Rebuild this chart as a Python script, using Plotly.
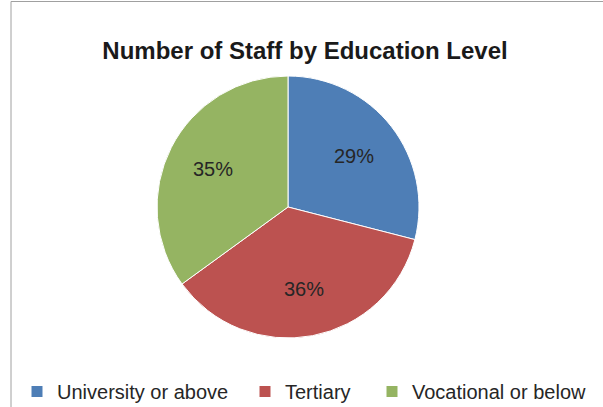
import math
import plotly.graph_objects as go

categories = ["University or above", "Tertiary", "Vocational or below"]
values = [29, 36, 35]
colors = ["#4E7EB6", "#BC5250", "#95B462"]

W, H = 603, 407
FONT = "Liberation Sans, Arial, Helvetica, sans-serif"

# pie placement (pixels)
cx, cy, R = 288, 207, 131
dom_x = [(cx - R) / W, (cx + R) / W]
dom_y = [1 - (cy + R) / H, 1 - (cy - R) / H]

fig = go.Figure()
fig.add_trace(go.Pie(
    labels=categories,
    values=values,
    marker=dict(colors=colors, line=dict(color="white", width=1)),
    sort=False,
    direction="clockwise",
    rotation=0,
    textinfo="none",
    domain=dict(x=dom_x, y=dom_y),
    showlegend=False,
))

# percentage labels placed from the data (mid-angle of each slice)
total = sum(values)
cum = 0
annotations = []
for v in values:
    a = 2 * math.pi * (cum + v / 2) / total
    cum += v
    f = 0.64
    xp = cx + f * R * math.sin(a)
    yp = cy - f * R * math.cos(a)
    annotations.append(dict(
        x=xp / W, y=1 - yp / H, xref="paper", yref="paper",
        text=f"{round(100 * v / total)}%", showarrow=False,
        xanchor="center", yanchor="middle",
        font=dict(family=FONT, size=20, color="#262626"),
    ))

# legend entries (one legend per entry so that spacing matches)
legend_x_px = [17, 245, 372]
legend_names = ["legend", "legend2", "legend3"]
for name, col, lg in zip(categories, colors, legend_names):
    fig.add_trace(go.Scatter(
        x=[None], y=[None], mode="markers", name=name,
        marker=dict(symbol="square", size=11, color=col),
        legend=lg, showlegend=True, hoverinfo="skip",
    ))

layout_legends = {}
for lg, xpx in zip(legend_names, legend_x_px):
    layout_legends[lg] = dict(
        orientation="h",
        x=xpx / W, xanchor="left",
        y=1 - 391.5 / H, yanchor="middle",
        font=dict(family=FONT, size=20, color="#262626"),
        bgcolor="rgba(0,0,0,0)",
    )

fig.update_layout(
    width=W, height=H,
    margin=dict(l=0, r=0, t=0, b=0, autoexpand=False),
    paper_bgcolor="white",
    plot_bgcolor="white",
    xaxis=dict(visible=False),
    yaxis=dict(visible=False),
    title=dict(
        text="<b>Number of Staff by Education Level</b>",
        x=305 / W, xanchor="center",
        y=1 - 51 / H, yanchor="middle",
        font=dict(family=FONT, size=24, color="#1a1a1a"),
    ),
    annotations=annotations,
    shapes=[
        dict(type="line", xref="paper", yref="paper",
             x0=11 / W, x1=11 / W, y0=1 - 1.5 / H, y1=-0.1,
             line=dict(color="#a0a0a0", width=1)),
        dict(type="line", xref="paper", yref="paper",
             x0=11 / W, x1=1.1, y0=1 - 1.5 / H, y1=1 - 1.5 / H,
             line=dict(color="#a0a0a0", width=1)),
    ],
    **layout_legends,
)

fig.write_html("out.html")
